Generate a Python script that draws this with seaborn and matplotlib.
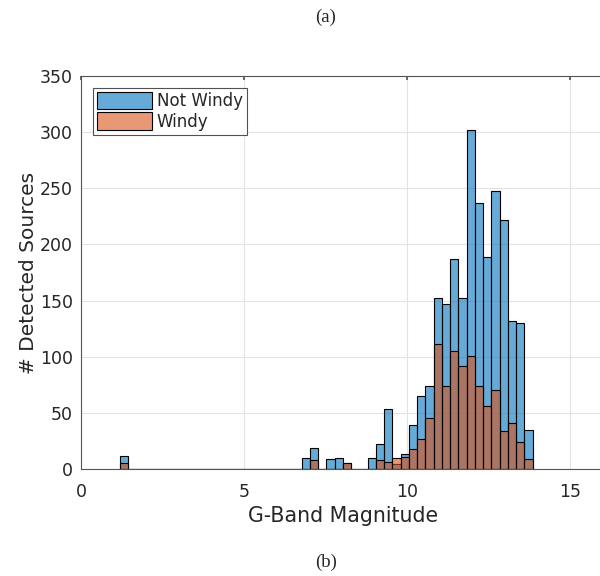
import numpy as np
import pandas as pd
import matplotlib
matplotlib.use("Agg")
import matplotlib.pyplot as plt
import seaborn as sns

# Histogram bins (50 equal bins spanning the data range)
bin_lo, bin_hi, n_bins = 1.20, 13.86, 50

not_windy_counts = [12, 0, 0, 0, 0, 0, 0, 0, 0, 0,
                    0, 0, 0, 0, 0, 0, 0, 0, 0, 0,
                    0, 0, 10, 19, 0, 9, 10, 5, 0, 0,
                    10, 22, 53, 4, 13, 39, 65, 74, 152, 147,
                    187, 152, 302, 237, 189, 248, 222, 132, 130, 35]
windy_counts = [5, 0, 0, 0, 0, 0, 0, 0, 0, 0,
                0, 0, 0, 0, 0, 0, 0, 0, 0, 0,
                0, 0, 0, 8, 0, 0, 0, 5, 0, 0,
                0, 8, 6, 10, 11, 18, 27, 45, 111, 74,
                105, 92, 101, 74, 56, 70, 34, 41, 24, 9]
series_names = ["Not Windy", "Windy"]
x_ticks = [0, 5, 10, 15]
y_ticks = [0, 50, 100, 150, 200, 250, 300, 350]

edges = [float(e) for e in np.linspace(bin_lo, bin_hi, n_bins + 1)]
centers = [(a + b) / 2 for a, b in zip(edges[:-1], edges[1:])]

sns.set_theme(style="white")
plt.rcParams['font.family'] = ['DejaVu Sans']

fig = plt.figure(figsize=(6.0, 5.76), dpi=100)
ax = fig.add_axes([0.135, 0.1858, 0.8745, 0.6823])

colors = ["#0072BD", "#D95319"]
for name, counts, col in zip(series_names, [not_windy_counts, windy_counts], colors):
    df = pd.DataFrame({"mag": centers, "n": counts})
    sns.histplot(data=df, x="mag", weights="n", bins=edges, ax=ax,
                 color=col, alpha=0.6, edgecolor="black", linewidth=0.8,
                 label=name, stat="count")

ax.set_xlim(0, 16.1)
ax.set_ylim(0, 350)
ax.set_xticks(x_ticks)
ax.set_yticks(y_ticks)
ax.grid(True, color="#e3e3e3", linewidth=0.8)
ax.set_axisbelow(True)
ax.tick_params(direction="in", length=3, labelsize=12.5, colors="#555555",
               labelcolor="#262626", top=True, right=True)
ax.tick_params(axis="x", pad=10)
ax.tick_params(axis="y", pad=6)
for s in ax.spines.values():
    s.set_color("#555555")
    s.set_linewidth(0.8)
ax.set_xlabel("G-Band Magnitude", fontsize=14.8, color="#262626", labelpad=4)
ax.set_ylabel("# Detected Sources", fontsize=14.5, color="#262626", labelpad=1)

leg = ax.legend(loc="upper left", bbox_to_anchor=(0.0, 1.0), fontsize=12,
                frameon=True, fancybox=False, edgecolor="#262626",
                handlelength=3.3, handleheight=1.2, handletextpad=0.3,
                borderpad=0.25, labelspacing=0.15, borderaxespad=0.7)
leg.get_frame().set_linewidth(0.8)

fig.text(0.543, 1 - 17 / 576, "(a)", ha="center", va="center",
         fontsize=13.5, family="Liberation Serif")
fig.text(0.543, 1 - 562 / 576, "(b)", ha="center", va="center",
         fontsize=13.5, family="Liberation Serif")

fig.savefig("out.png", dpi=100)
